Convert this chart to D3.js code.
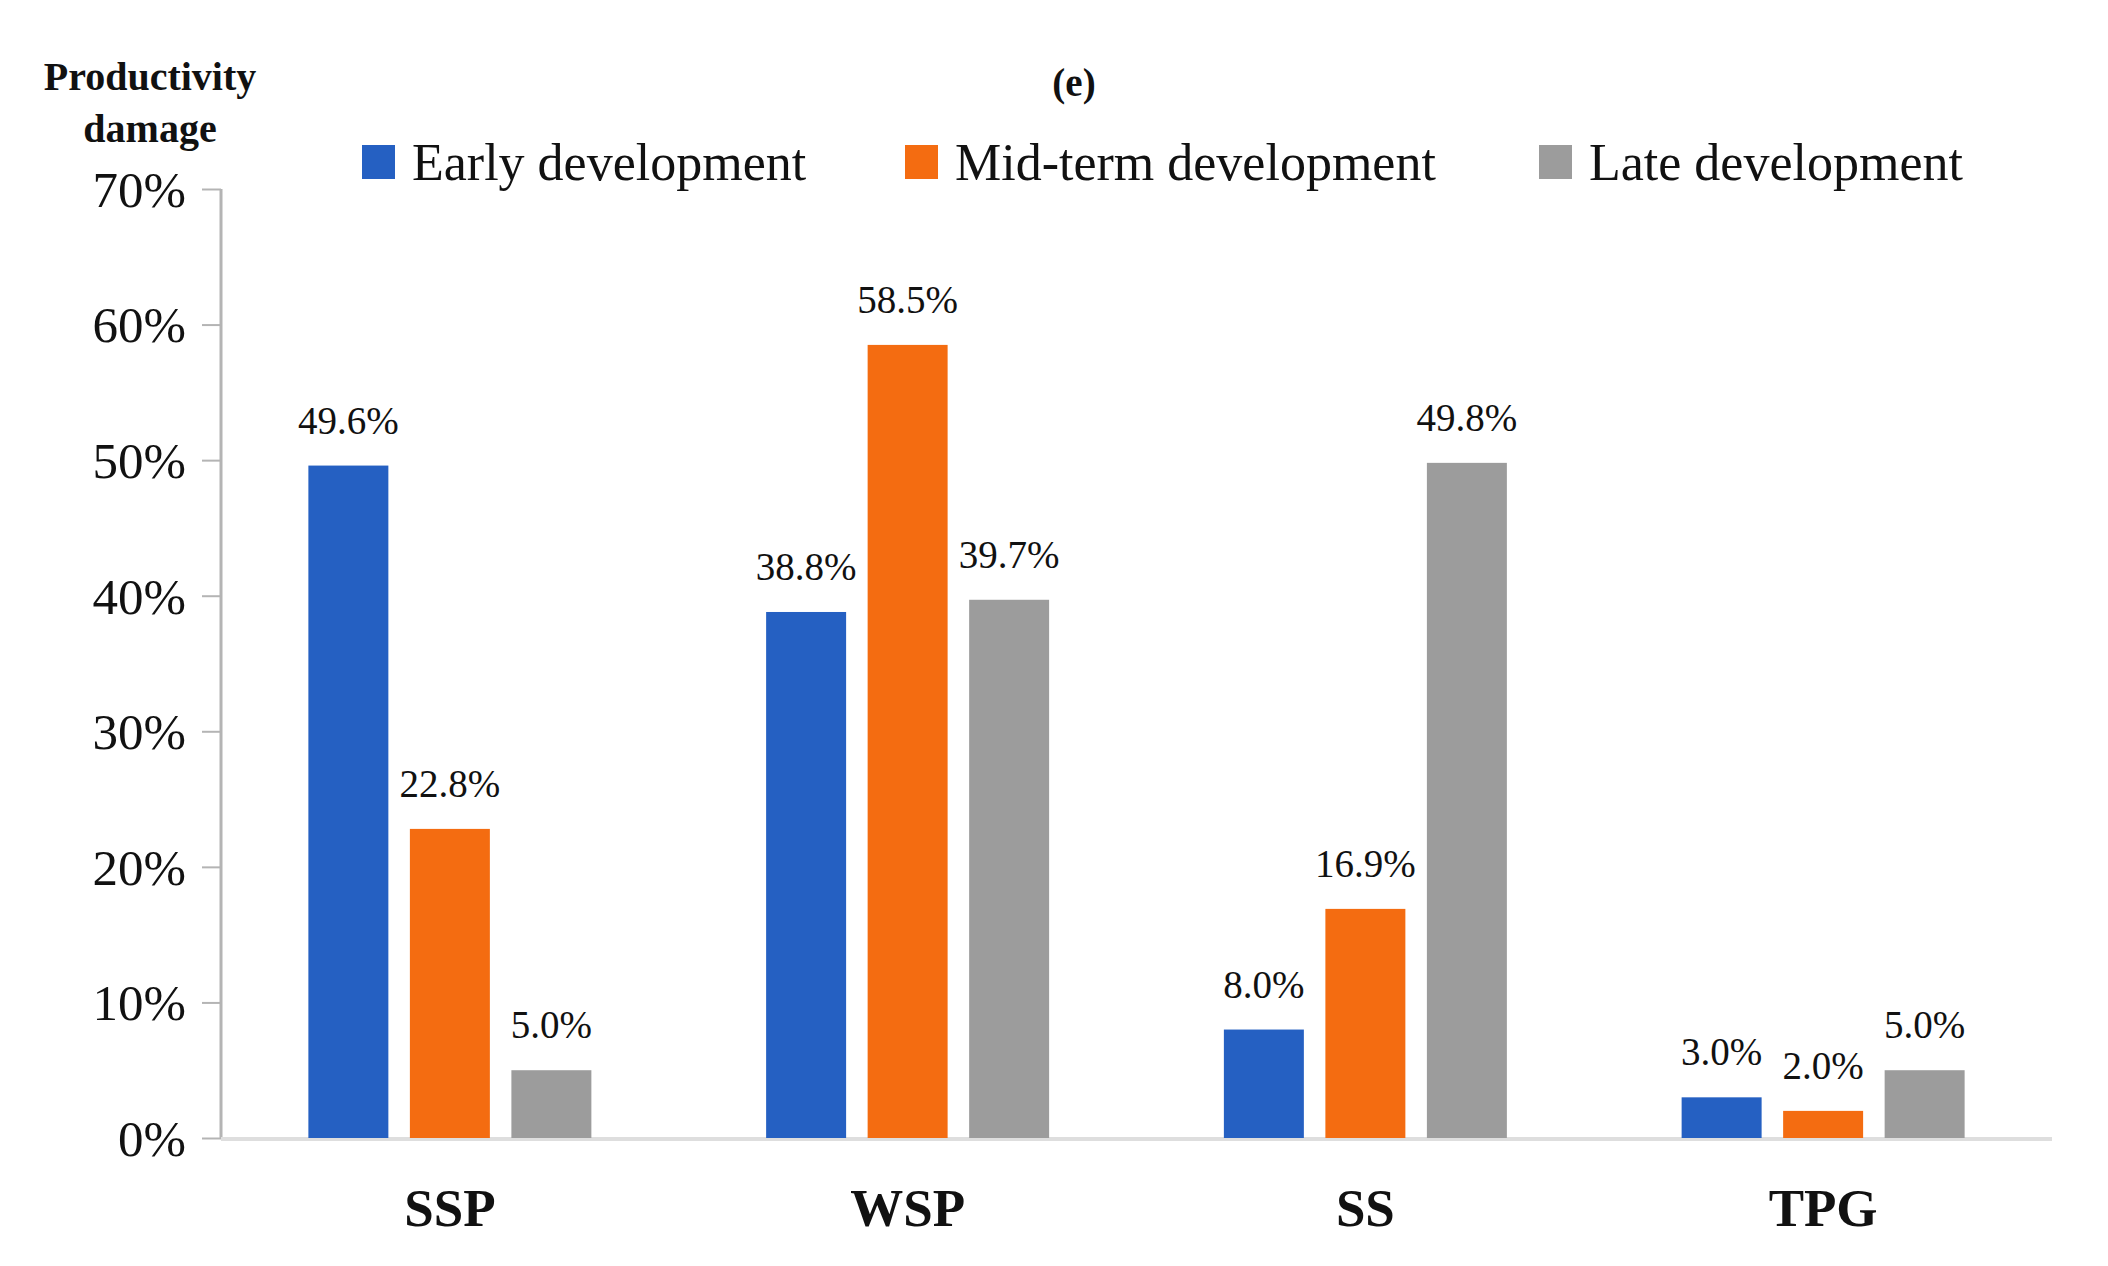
<!DOCTYPE html>
<html>
<head>
<meta charset="utf-8">
<script src="https://cdn.jsdelivr.net/npm/d3@7"></script>
<style>
  html, body { margin: 0; padding: 0; background: #fff; }
  svg text { font-family: "Liberation Serif", "Times New Roman", serif; fill: #111; }
</style>
</head>
<body>
<div id="chart"></div>
<script>
const categories = ['SSP', 'WSP', 'SS', 'TPG'];
const seriesNames = ['Early development', 'Mid-term development', 'Late development'];
const earlyValues = [49.6, 38.8, 8.0, 3.0];
const midValues = [22.8, 58.5, 16.9, 2.0];
const lateValues = [5.0, 39.7, 49.8, 5.0];
const yTicks = [0, 10, 20, 30, 40, 50, 60, 70];
const colors = ['#2560c2', '#f46c11', '#9c9c9c'];

const seriesValues = [earlyValues, midValues, lateValues];
const serif = '"Liberation Serif", "Times New Roman", serif';

const width = 2108;
const height = 1266;
const plotLeft = 221, plotRight = 2052, plotTop = 189, plotBottom = 1138;

const svg = d3.select('#chart')
    .append('svg')
    .attr('width', width)
    .attr('height', height);

const x0 = d3.scaleBand()
    .domain(categories)
    .range([plotLeft, plotRight]);

const groupWidth = 283;
const x1 = d3.scaleBand()
    .domain(seriesNames)
    .range([0, groupWidth])
    .paddingInner(0.212);

const y = d3.scaleLinear()
    .domain([0, 70])
    .range([plotBottom, plotTop]);

// y axis
const yAxis = d3.axisLeft(y)
    .tickValues(yTicks)
    .tickFormat(d => d + '%')
    .tickSize(19)
    .tickPadding(16);

const yg = svg.append('g')
    .attr('transform', `translate(${plotLeft},0)`)
    .call(yAxis)
    .attr('font-family', serif);
yg.select('.domain').attr('stroke', '#b4b4b4').attr('stroke-width', 3)
    .attr('d', `M0,${plotTop}V${plotBottom}`);
yg.selectAll('.tick line').attr('stroke', '#b4b4b4').attr('stroke-width', 2);
yg.selectAll('.tick text')
    .style('font-size', '51px')
    .attr('dy', '0.34em')
    .attr('fill', '#111');

// x axis line
svg.append('line')
    .attr('x1', plotLeft).attr('x2', plotRight)
    .attr('y1', y(0) + 1).attr('y2', y(0) + 1)
    .attr('stroke', '#dedede')
    .attr('stroke-width', 4);

// bars
const groups = svg.selectAll('.group')
    .data(categories)
    .enter()
    .append('g')
    .attr('class', 'group')
    .attr('transform', c => `translate(${x0(c) + (x0.bandwidth() - groupWidth) / 2},0)`);

groups.selectAll('rect')
    .data((c, i) => seriesNames.map((s, j) => ({ s: s, j: j, v: seriesValues[j][i] })))
    .enter()
    .append('rect')
    .attr('x', d => x1(d.s))
    .attr('y', d => y(d.v))
    .attr('width', x1.bandwidth())
    .attr('height', d => y(0) - y(d.v))
    .attr('fill', d => colors[d.j]);

groups.selectAll('.val')
    .data((c, i) => seriesNames.map((s, j) => ({ s: s, j: j, v: seriesValues[j][i] })))
    .enter()
    .append('text')
    .attr('class', 'val')
    .attr('x', d => x1(d.s) + x1.bandwidth() / 2)
    .attr('y', d => y(d.v) - 32)
    .attr('text-anchor', 'middle')
    .style('font-family', serif)
    .style('font-size', '39px')
    .text(d => d.v.toFixed(1) + '%');

// category labels
svg.selectAll('.cat')
    .data(categories)
    .enter()
    .append('text')
    .attr('class', 'cat')
    .attr('x', c => x0(c) + x0.bandwidth() / 2)
    .attr('y', 1226)
    .attr('text-anchor', 'middle')
    .style('font-size', '53px')
    .style('font-weight', 'bold')
    .text(c => c);

// y title
svg.append('text')
    .attr('x', 150).attr('y', 90)
    .attr('text-anchor', 'middle')
    .style('font-size', '40px')
    .style('font-weight', 'bold')
    .text('Productivity');
svg.append('text')
    .attr('x', 150).attr('y', 142)
    .attr('text-anchor', 'middle')
    .style('font-size', '40px')
    .style('font-weight', 'bold')
    .text('damage');

// panel label
svg.append('text')
    .attr('x', 1074).attr('y', 96)
    .attr('text-anchor', 'middle')
    .style('font-size', '39px')
    .style('font-weight', 'bold')
    .text('(e)');

// legend
const legendX = [362, 905, 1539];
const legend = svg.selectAll('.legend')
    .data(seriesNames)
    .enter()
    .append('g')
    .attr('class', 'legend')
    .attr('transform', (d, i) => `translate(${legendX[i]},145)`);

legend.append('rect')
    .attr('width', 33)
    .attr('height', 34)
    .attr('fill', (d, i) => colors[i]);

legend.append('text')
    .attr('x', 50)
    .attr('y', 35)
    .style('font-size', '52px')
    .text(d => d);
</script>
</body>
</html>
